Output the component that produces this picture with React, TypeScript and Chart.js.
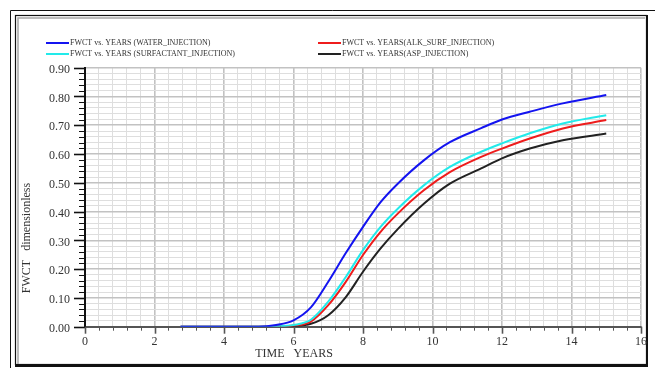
import React, { useEffect, useRef } from "react";
import { Chart, registerables } from "chart.js";

Chart.register(...registerables);

const years = [2.75, 5.0, 5.5, 6.0, 6.5, 7.0, 7.5, 8.0, 8.5, 9.0, 9.75, 10.5, 11.4, 12.0, 12.8, 13.75, 15.0];
const waterInjection = [0, 0, 0.006, 0.022, 0.067, 0.156, 0.255, 0.347, 0.432, 0.497, 0.578, 0.641, 0.69, 0.72, 0.747, 0.776, 0.805];
const surfactantInjection = [0, 0, 0.001, 0.006, 0.024, 0.087, 0.172, 0.266, 0.346, 0.41, 0.491, 0.555, 0.608, 0.637, 0.672, 0.706, 0.735];
const alkSurfInjection = [0, 0, 0.001, 0.004, 0.018, 0.075, 0.155, 0.249, 0.329, 0.393, 0.474, 0.537, 0.59, 0.619, 0.654, 0.689, 0.718];
const aspInjection = [0, 0, 0, 0.002, 0.01, 0.04, 0.102, 0.191, 0.271, 0.339, 0.427, 0.497, 0.55, 0.585, 0.619, 0.648, 0.671];

const seriesLabels = [
  "FWCT vs. YEARS (WATER_INJECTION)",
  "FWCT vs. YEARS (SURFACTANT_INJECTION)",
  "FWCT vs. YEARS(ALK_SURF_INJECTION)",
  "FWCT vs. YEARS(ASP_INJECTION)",
];
const seriesColors = ["#1414f0", "#22eaea", "#ee1c1c", "#222222"];
const seriesValues = [waterInjection, surfactantInjection, alkSurfInjection, aspInjection];

const xTitle = "TIME   YEARS";
const yTitle = "FWCT   dimensionless";

const SERIF = '"Liberation Serif", "Times New Roman", serif';

const isMult = (v: number, m: number) => Math.abs(v / m - Math.round(v / m)) < 1e-6;

const deco = {
  id: "deco",
  beforeDraw(chart: any) {
    const ctx = chart.ctx;
    ctx.save();
    ctx.fillStyle = "#ffffff";
    ctx.fillRect(0, 0, chart.width, chart.height);
    ctx.strokeStyle = "#111";
    ctx.lineWidth = 1;
    ctx.beginPath();
    ctx.moveTo(10.5, chart.height);
    ctx.lineTo(10.5, 10.5);
    ctx.lineTo(chart.width, 10.5);
    ctx.stroke();
    ctx.lineWidth = 1.2;
    ctx.strokeRect(15.5, 15.5, 631, 349);
    ctx.lineWidth = 2;
    ctx.beginPath();
    ctx.moveTo(647, 15);
    ctx.lineTo(647, 366);
    ctx.lineTo(15, 366);
    ctx.stroke();
    ctx.strokeStyle = "#a8a8a8";
    ctx.lineWidth = 1.5;
    ctx.beginPath();
    ctx.moveTo(18, 364);
    ctx.lineTo(18, 18);
    ctx.lineTo(645, 18);
    ctx.stroke();
    ctx.restore();
  },
  afterDraw(chart: any) {
    const ctx = chart.ctx;
    const xs = chart.scales.x;
    const ys = chart.scales.y;
    const area = chart.chartArea;
    ctx.save();
    ctx.strokeStyle = "#111";
    ys.ticks.forEach((t: any) => {
      const py = Math.round(ys.getPixelForValue(t.value)) + 0.5;
      const major = isMult(t.value, 0.1);
      ctx.lineWidth = major ? 1.6 : 1;
      ctx.beginPath();
      ctx.moveTo(area.left - (major ? 11 : 6), py);
      ctx.lineTo(area.left, py);
      ctx.stroke();
    });
    ctx.strokeStyle = "#555";
    xs.ticks.forEach((t: any) => {
      const px = Math.round(xs.getPixelForValue(t.value)) + 0.5;
      const major = isMult(t.value, 2);
      ctx.lineWidth = major ? 1.6 : 1;
      ctx.beginPath();
      ctx.moveTo(px, area.bottom);
      ctx.lineTo(px, area.bottom + (major ? 7 : 4));
      ctx.stroke();
    });
    ctx.fillStyle = "#333";
    ctx.font = `12px ${SERIF}`;
    ctx.textAlign = "center";
    ctx.textBaseline = "middle";
    ctx.fillText(xTitle, 294, 354);
    ctx.save();
    ctx.translate(27, 238);
    ctx.rotate(-Math.PI / 2);
    ctx.fillText(yTitle, 0, 0);
    ctx.restore();
    const pos = [
      [46, 43],
      [46, 54],
      [318, 43],
      [318, 54],
    ];
    ctx.font = `8px ${SERIF}`;
    ctx.textAlign = "left";
    seriesLabels.forEach((lab, i) => {
      const [lx, ly] = pos[i];
      ctx.strokeStyle = seriesColors[i];
      ctx.lineWidth = 2;
      ctx.beginPath();
      ctx.moveTo(lx, ly);
      ctx.lineTo(lx + 23, ly);
      ctx.stroke();
      ctx.fillStyle = "#333";
      ctx.fillText(lab, lx + 24, ly);
    });
    ctx.restore();
  },
};

export default function App() {
  const ref = useRef<HTMLCanvasElement | null>(null);
  useEffect(() => {
    if (!ref.current) return;
    const datasets = seriesValues.map((vals, i) => ({
      label: seriesLabels[i],
      data: years.map((x, j) => ({ x, y: vals[j] })),
      borderColor: seriesColors[i],
      backgroundColor: seriesColors[i],
      borderWidth: 2,
      pointRadius: 0,
      cubicInterpolationMode: "monotone" as const,
      fill: false,
    }));
    const chart = new Chart(ref.current, {
      type: "line",
      data: { datasets },
      plugins: [deco],
      options: {
        responsive: false,
        animation: false,
        layout: { padding: { left: 0, top: 67.7, right: 10, bottom: 0 } },
        plugins: { legend: { display: false }, tooltip: { enabled: false } },
        scales: {
          x: {
            type: "linear",
            min: 0,
            max: 16,
            afterFit: (s: any) => {
              s.height = 41.3;
            },
            ticks: {
              stepSize: 0.4,
              autoSkip: false,
              maxRotation: 0,
              padding: 8,
              color: "#333",
              font: { family: SERIF, size: 12 },
              callback: (v: any) => (isMult(Number(v), 2) ? String(Math.round(Number(v))) : ""),
            },
            grid: {
              drawTicks: false,
              color: (c: any) => (c.tick && isMult(c.tick.value, 2) ? "#c2c2c2" : "#dedede"),
              lineWidth: (c: any) => (c.tick && isMult(c.tick.value, 2) ? 1.6 : 1),
            },
            border: { display: true, color: "#555", width: 2 },
          },
          y: {
            type: "linear",
            min: 0,
            max: 0.9,
            afterFit: (s: any) => {
              s.width = 85;
            },
            ticks: {
              stepSize: 0.02,
              autoSkip: false,
              padding: 15,
              labelOffset: 2,
              color: "#333",
              font: { family: SERIF, size: 12 },
              callback: (v: any) => (isMult(Number(v), 0.1) ? Number(v).toFixed(2) : ""),
            },
            grid: {
              drawTicks: false,
              color: (c: any) => (c.tick && isMult(c.tick.value, 0.1) ? "#c2c2c2" : "#dedede"),
              lineWidth: (c: any) => (c.tick && isMult(c.tick.value, 0.1) ? 1.6 : 1),
            },
            border: { display: true, color: "#111", width: 2 },
          },
        },
      },
    });
    return () => chart.destroy();
  }, []);
  return (
    <div style={{ position: "absolute", left: 0, top: 0, width: 655, height: 368 }}>
      <canvas ref={ref} width={655} height={368} style={{ display: "block" }} />
    </div>
  );
}
